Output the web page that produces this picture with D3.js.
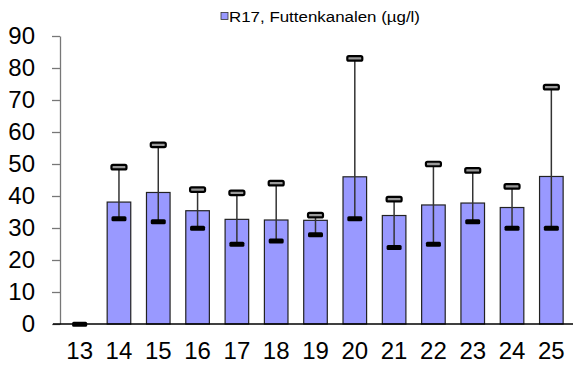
<!DOCTYPE html>
<html>
<head>
<meta charset="utf-8">
<script src="https://cdn.jsdelivr.net/npm/d3@7"></script>
<style>
  body { margin: 0; background: #fff; }
  svg { display: block; font-family: "Liberation Sans", Arial, sans-serif; }
</style>
</head>
<body>
<svg id="chart" width="575" height="367"></svg>
<script>
const categories = ["13","14","15","16","17","18","19","20","21","22","23","24","25"];
const meanValues = [0, 38.1, 41.1, 35.4, 32.7, 32.5, 32.4, 46.0, 33.9, 37.2, 37.8, 36.4, 46.1];
const minValues  = [0, 33, 32, 30, 25, 26, 28, 33, 24, 25, 32, 30, 30];
const maxValues  = [0, 49, 56, 42, 41, 44, 34, 83, 39, 50, 48, 43, 74];
const yTicks = [0, 10, 20, 30, 40, 50, 60, 70, 80, 90];
const seriesName = "R17, Futtenkanalen (\u00b5g/l)";

const rows = categories.map((c, i) => ({ cat: c, mean: meanValues[i], min: minValues[i], max: maxValues[i] }));

const svg = d3.select("#chart");
const x = d3.scaleBand().domain(categories).range([60, 571]).paddingInner(0.4).paddingOuter(0.2);
const y = d3.scaleLinear().domain([0, 90]).range([324, 36]);

// Bars
svg.append("g").selectAll("rect").data(rows.filter(d => d.mean > 0)).join("rect")
  .attr("x", d => x(d.cat))
  .attr("y", d => y(d.mean))
  .attr("width", x.bandwidth())
  .attr("height", d => y(0) - y(d.mean))
  .attr("fill", "#9999ff")
  .attr("stroke", "#222")
  .attr("stroke-width", 1.2);

// Y axis
const yAxis = svg.append("g").attr("transform", "translate(60,0)")
  .call(d3.axisLeft(y).tickValues(yTicks).tickSize(8).tickSizeOuter(0).tickPadding(17));
yAxis.select(".domain").attr("stroke", "#777").attr("stroke-width", 1.3);
yAxis.selectAll(".tick line").attr("stroke", "#777").attr("stroke-width", 1.3);
yAxis.selectAll(".tick text").attr("font-size", 24).attr("fill", "#000")
  .attr("font-family", "'Liberation Sans', Arial, sans-serif");

// X axis
const xAxis = svg.append("g").attr("transform", "translate(0,324)")
  .call(d3.axisBottom(x).tickSize(0).tickPadding(18));
xAxis.select(".domain").remove();
xAxis.selectAll(".tick text").attr("font-size", 24).attr("fill", "#000")
  .attr("font-family", "'Liberation Sans', Arial, sans-serif");
svg.append("line").attr("x1", 53).attr("x2", 573).attr("y1", y(0)).attr("y2", y(0))
  .attr("stroke", "#000").attr("stroke-width", 1.3);

// Error bars
const eb = svg.append("g");
const capW = 15, capH = 4.5;
eb.selectAll("line.v").data(rows.filter(d => d.max > d.min)).join("line")
  .attr("class", "v")
  .attr("x1", d => x(d.cat) + x.bandwidth() / 2)
  .attr("x2", d => x(d.cat) + x.bandwidth() / 2)
  .attr("y1", d => y(d.max))
  .attr("y2", d => y(d.min))
  .attr("stroke", "#333").attr("stroke-width", 1.5);
eb.selectAll("rect.maxcap").data(rows.filter(d => d.max > d.min)).join("rect")
  .attr("class", "maxcap")
  .attr("x", d => x(d.cat) + x.bandwidth() / 2 - capW / 2)
  .attr("y", d => y(d.max) - capH / 2)
  .attr("width", capW).attr("height", capH).attr("rx", 1.5)
  .attr("fill", "#999").attr("stroke", "#000").attr("stroke-width", 2.2);
eb.selectAll("rect.mincap").data(rows).join("rect")
  .attr("class", "mincap")
  .attr("x", d => x(d.cat) + x.bandwidth() / 2 - capW / 2)
  .attr("y", d => y(d.min) - capH / 2)
  .attr("width", capW).attr("height", capH + 0.5).attr("rx", 1.5)
  .attr("fill", "#000");

// Legend
const lg = svg.append("g");
lg.append("rect").attr("x", 221).attr("y", 12.5).attr("width", 7).attr("height", 7)
  .attr("fill", "#9999ff").attr("stroke", "#333").attr("stroke-width", 0.8);
lg.append("text").attr("x", 229).attr("y", 21.5).attr("font-size", 15.5).attr("fill", "#000")
  .attr("textLength", 191).attr("lengthAdjust", "spacingAndGlyphs")
  .text(seriesName);
</script>
</body>
</html>
